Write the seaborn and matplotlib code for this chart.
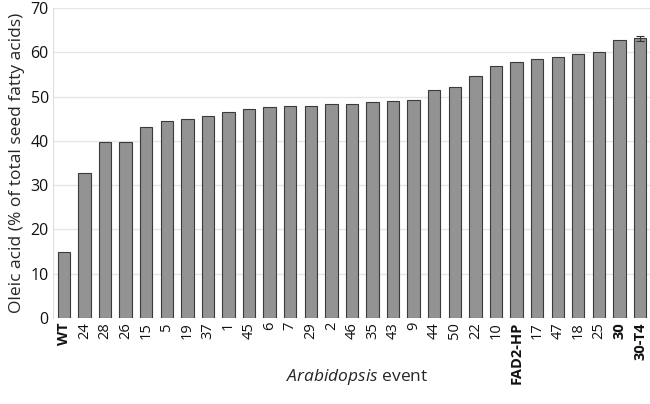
import numpy as np
import pandas as pd
import seaborn as sns
import matplotlib.pyplot as plt

events = ['WT', '24', '28', '26', '15', '5', '19', '37', '1', '45', '6', '7', '29', '2',
          '46', '35', '43', '9', '44', '50', '22', '10', 'FAD2-HP', '17', '47', '18', '25',
          '30', '30-T4']
oleic = [14.9, 32.8, 39.8, 39.8, 43.2, 44.5, 44.9, 45.6, 46.5, 47.3, 47.6, 47.8, 47.9, 48.3,
         48.3, 48.8, 49.0, 49.3, 51.4, 52.2, 54.6, 57.0, 57.9, 58.6, 58.9, 59.6, 60.0,
         62.7, 63.2]
err = [0] * 28 + [0.6]
bold_labels = ['WT', 'FAD2-HP', '30', '30-T4']

df = pd.DataFrame({'event': events, 'oleic': oleic, 'err': err})

sns.set_style('white')
plt.rcParams['font.family'] = ['Open Sans', 'DejaVu Sans']
plt.rcParams['mathtext.fontset'] = 'custom'
plt.rcParams['mathtext.it'] = 'Open Sans:italic'
plt.rcParams['mathtext.rm'] = 'Open Sans'

fig = plt.figure(figsize=(6.5, 4.04), dpi=100)
ax = fig.add_axes([0.0815, 0.213, 0.918, 0.767])
ax.yaxis.grid(True, color='#e6e6e6', linewidth=1)
ax.set_axisbelow(True)

sns.barplot(data=df, x='event', y='oleic', color='#939393', saturation=1,
            width=0.6, edgecolor='#3a3a3a', linewidth=0.8, ax=ax)

has_err = df[df['err'] > 0]
ax.errorbar(has_err.index, has_err['oleic'], yerr=has_err['err'], fmt='none',
            ecolor='#333333', elinewidth=0.8, capsize=3, capthick=0.8)

ax.set_ylim(0, 70)
ax.set_yticks(range(0, 71, 10))
ax.set_xlim(-0.53, 28.47)
ax.tick_params(axis='y', labelsize=11.5, length=0, pad=3, labelcolor='#111111')
ax.tick_params(axis='x', labelsize=10.5, length=0, pad=3, rotation=90, labelcolor='#111111')
for lab in ax.get_xticklabels():
    if lab.get_text() in bold_labels:
        lab.set_fontweight('bold')

ax.set_ylabel('Oleic acid (% of total seed fatty acids)', fontsize=12.5, labelpad=4)
ax.set_xlabel(r'$\it{Arabidopsis}$ event', fontsize=12.5, va='center')
ax.xaxis.set_label_coords(0.51, -0.19)

for s in ['top', 'right', 'bottom']:
    ax.spines[s].set_visible(False)
ax.spines['left'].set_color('#dddddd')

fig.savefig('out.png', dpi=100)
